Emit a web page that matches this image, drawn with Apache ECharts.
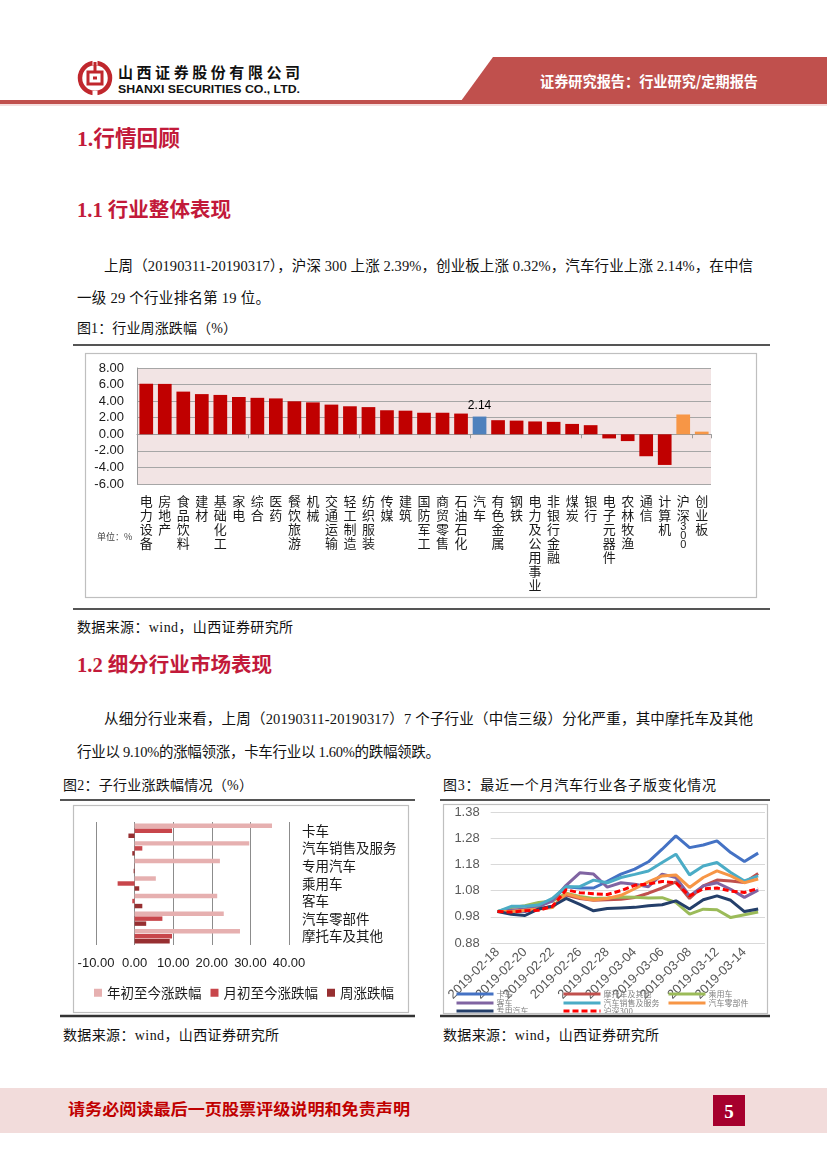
<!DOCTYPE html>
<html><head><meta charset="utf-8">
<script src="https://cdn.jsdelivr.net/npm/echarts@6/dist/echarts.min.js"></script>
<style>
body{margin:0;background:#fff;}
#page{position:relative;width:827px;height:1169px;overflow:hidden;background:#fff;}
#bg{position:absolute;left:0;top:0;}
.chart{position:absolute;}
</style></head><body>
<div id="page">
<svg id="bg" width="827" height="1169" xmlns="http://www.w3.org/2000/svg">
  <!-- header -->
  <polygon points="461,101 493,57 827,57 827,101" fill="#c0504d"/>
  <rect x="0" y="100" width="827" height="4" fill="#c0504d"/>
  <rect x="0" y="104" width="827" height="2" fill="#f4dede"/>
  <g>
    <circle cx="95" cy="78" r="15" fill="none" stroke="#c0272d" stroke-width="4.5"/>
    <rect x="92.5" y="59" width="5" height="6" fill="#fff"/>
    <rect x="92.5" y="91" width="5" height="6" fill="#fff"/>
    <rect x="88" y="72" width="14" height="12" fill="none" stroke="#c0272d" stroke-width="3"/>
    <rect x="93" y="76.5" width="4" height="3" fill="#c0272d"/>
    <rect x="93.5" y="62" width="3" height="10" fill="#c0272d"/>
  </g>
  <text x="118" y="78" font-family="Noto Sans CJK SC" font-weight="700" font-size="15" textLength="182" lengthAdjust="spacing" fill="#111">山西证券股份有限公司</text>
  <text x="118" y="93" font-family="Liberation Sans" font-weight="700" font-size="11.5" textLength="182" lengthAdjust="spacingAndGlyphs" fill="#111">SHANXI SECURITIES CO., LTD.</text>
  <text x="540" y="87" font-family="Noto Sans CJK SC" font-weight="700" font-size="14.5" textLength="218" lengthAdjust="spacingAndGlyphs" fill="#fff">证券研究报告：行业研究/定期报告</text>

  <!-- headings & text -->
  <g font-family="Liberation Serif, Noto Sans CJK SC" fill="#c21a3a" font-weight="700">
    <text x="77" y="146" font-size="22" textLength="103" lengthAdjust="spacingAndGlyphs">1.行情回顾</text>
    <text x="77" y="217" font-size="20" textLength="154" lengthAdjust="spacingAndGlyphs">1.1 行业整体表现</text>
    <text x="77" y="672" font-size="20" textLength="195" lengthAdjust="spacingAndGlyphs">1.2 细分行业市场表现</text>
  </g>
  <g font-family="Liberation Serif, Noto Sans CJK SC" fill="#111" font-size="14.5">
    <text x="104" y="271" textLength="649" lengthAdjust="spacing">上周（20190311-20190317），沪深 300 上涨 2.39%，创业板上涨 0.32%，汽车行业上涨 2.14%，在中信</text>
    <text x="77" y="303" textLength="193" lengthAdjust="spacing">一级 29 个行业排名第 19 位。</text>
    <text x="104" y="724" textLength="649" lengthAdjust="spacing">从细分行业来看，上周（20190311-20190317）7 个子行业（中信三级）分化严重，其中摩托车及其他</text>
    <text x="77" y="757" textLength="363" lengthAdjust="spacing">行业以 9.10%的涨幅领涨，卡车行业以 1.60%的跌幅领跌。</text>
  </g>
  <g font-family="Liberation Serif, Noto Sans CJK SC" fill="#111" font-size="14">
    <text x="77" y="333" textLength="160" lengthAdjust="spacing">图1：行业周涨跌幅（%）</text>
    <text x="77" y="632" textLength="216" lengthAdjust="spacing">数据来源：wind，山西证券研究所</text>
    <text x="63" y="790" textLength="190" lengthAdjust="spacing">图2：子行业涨跌幅情况（%）</text>
    <text x="443" y="790" textLength="273" lengthAdjust="spacing">图3：最近一个月汽车行业各子版变化情况</text>
    <text x="63" y="1040" textLength="216" lengthAdjust="spacing">数据来源：wind，山西证券研究所</text>
    <text x="443" y="1040" textLength="216" lengthAdjust="spacing">数据来源：wind，山西证券研究所</text>
  </g>
  <!-- rules -->
  <g stroke="#555" stroke-width="2">
    <line x1="73" y1="345" x2="770" y2="345"/>
    <line x1="73" y1="609" x2="770" y2="609"/>
    <line x1="60" y1="800" x2="415" y2="800"/>
    <line x1="440" y1="800" x2="770" y2="800"/>
  </g>
  <g stroke="#333" stroke-width="2.5">
    <line x1="60" y1="1016" x2="415" y2="1016"/>
    <line x1="440" y1="1016" x2="770" y2="1016"/>
  </g>
  <!-- chart frames -->
  <g fill="none" stroke="#bfbfbf" stroke-width="1.2">
    <rect x="85.5" y="353.5" width="671" height="244"/>
    <rect x="73.5" y="805.5" width="335" height="207"/>
    <rect x="443.5" y="804.5" width="324" height="209"/>
  </g>
  <!-- footer -->
  <rect x="0" y="1088" width="827" height="45" fill="#f2dcdb"/>
  <text x="68" y="1115" font-family="Noto Sans CJK SC" font-weight="700" font-size="16" fill="#c00000" textLength="342" lengthAdjust="spacingAndGlyphs">请务必阅读最后一页股票评级说明和免责声明</text>
  <rect x="713" y="1095" width="32" height="31" fill="#a6002d"/>
  <text x="729" y="1118" text-anchor="middle" font-family="Liberation Serif" font-weight="700" font-size="19" fill="#fff">5</text>
</svg>
<div id="c1" class="chart" style="left:86px;top:354px;width:670px;height:243px"></div>
<div id="c2" class="chart" style="left:74px;top:806px;width:334px;height:206px"></div>
<div id="c3" class="chart" style="left:444px;top:805px;width:323px;height:208px"></div>
</div>
<script>
// ---- Figure 1: weekly change by industry (%) ----
const industries = ['电力设备','房地产','食品饮料','建材','基础化工','家电','综合','医药','餐饮旅游','机械','交通运输','轻工制造','纺织服装','传媒','建筑','国防军工','商贸零售','石油石化','汽车','有色金属','钢铁','电力及公用事业','非银行金融','煤炭','银行','电子元器件','农林牧渔','通信','计算机','沪深300','创业板'];
const weeklyChange = [6.10,6.08,5.15,4.85,4.75,4.50,4.40,4.33,3.98,3.85,3.58,3.38,3.28,2.90,2.85,2.60,2.60,2.50,2.14,1.70,1.65,1.55,1.50,1.25,1.10,-0.50,-0.82,-2.65,-3.70,2.39,0.32];
const fig1Ticks = [-6,8,2];

// ---- Figure 2: sub-industry changes (%) ----
const subIndustries = ['卡车','汽车销售及服务','专用汽车','乘用车','客车','汽车零部件','摩托车及其他'];
const ytdChange = [35.6,29.7,22.1,5.5,21.4,23.1,27.3];
const mtdChange = [9.7,2.0,0.05,-4.4,-0.6,7.2,9.7];
const weekChange = [-1.6,-0.6,-0.25,1.2,2.0,3.0,9.1];
const fig2SeriesNames = ['年初至今涨跌幅','月初至今涨跌幅','周涨跌幅'];

// ---- Figure 3: sub-index trend over the last month ----
const dates = ['2019-02-18','2019-02-19','2019-02-20','2019-02-21','2019-02-22','2019-02-25','2019-02-26','2019-02-27','2019-02-28','2019-03-01','2019-03-04','2019-03-05','2019-03-06','2019-03-07','2019-03-08','2019-03-11','2019-03-12','2019-03-13','2019-03-14','2019-03-15'];
const truck      = [1.00,1.005,1.00,1.02,1.045,1.095,1.09,1.09,1.115,1.143,1.162,1.19,1.238,1.289,1.244,1.254,1.27,1.225,1.191,1.223];
const motorcycle = [1.00,1.00,1.003,1.01,1.02,1.063,1.05,1.043,1.045,1.047,1.054,1.07,1.09,1.113,1.05,1.098,1.12,1.117,1.111,1.145];
const passenger  = [1.00,1.015,1.022,1.035,1.04,1.07,1.058,1.05,1.052,1.056,1.055,1.052,1.053,1.035,0.99,1.009,1.007,0.977,0.988,0.998];
const bus        = [1.00,1.005,1.01,1.02,1.04,1.10,1.148,1.143,1.093,1.11,1.104,1.095,1.143,1.13,1.06,1.098,1.11,1.085,1.054,1.082];
const autoSales  = [1.00,1.02,1.02,1.025,1.05,1.095,1.095,1.12,1.11,1.13,1.142,1.155,1.187,1.219,1.14,1.174,1.187,1.149,1.117,1.136];
const autoParts  = [1.00,1.00,1.005,1.01,1.015,1.068,1.053,1.044,1.05,1.062,1.087,1.113,1.136,1.14,1.092,1.13,1.155,1.136,1.11,1.124];
const specialVeh = [1.00,0.99,0.985,1.01,1.02,1.05,1.027,1.003,1.012,1.014,1.016,1.022,1.026,1.041,1.01,1.045,1.06,1.043,1.00,1.01];
const hs300      = [1.00,0.998,1.003,1.005,1.02,1.083,1.072,1.068,1.065,1.08,1.10,1.105,1.115,1.11,1.06,1.087,1.09,1.078,1.073,1.088];
const fig3Names = ['卡车','摩托车及其他','乘用车','客车','汽车销售及服务','汽车零部件','专用汽车','沪深300'];

const TXT = '#1a1a1a';
const CJK = 'Noto Sans CJK SC';

// Figure 1
(function(){
  const chart = echarts.init(document.getElementById('c1'));
  const colorFor = n => n === '汽车' ? '#4f81bd' : (n === '沪深300' || n === '创业板') ? '#f79646' : '#c00000';
  const stack = v => v.split('').map(ch => /[0-9]/.test(ch) ? '{d|' + ch + '}' : ch).join('\n');
  chart.setOption({
    animation: false,
    grid: {left: 51, top: 14, width: 574, height: 116, show: true, backgroundColor: '#f2e4e4', borderWidth: 0},
    xAxis: [{
      type: 'category', data: industries,
      axisLine: {show: false, onZero: false}, axisTick: {show: false},
      axisLabel: {interval: 0, margin: 10, fontSize: 13, lineHeight: 14, color: TXT, fontFamily: CJK,
        formatter: stack, rich: {d: {fontSize: 11, lineHeight: 9, fontFamily: 'Liberation Sans', color: TXT}}}
    }, {
      type: 'category', data: industries, position: 'bottom',
      axisLine: {show: true, onZero: true, lineStyle: {color: '#9a9a9a'}},
      axisTick: {show: true, length: 4, lineStyle: {color: '#9a9a9a'}},
      axisLabel: {show: false}
    }],
    yAxis: {
      type: 'value', min: fig1Ticks[0], max: fig1Ticks[1], interval: fig1Ticks[2],
      axisLine: {show: true, lineStyle: {color: '#9a9a9a'}}, axisTick: {show: false},
      splitLine: {lineStyle: {color: '#a6a6a6'}},
      axisLabel: {fontSize: 13, margin: 13, color: TXT, fontFamily: 'Liberation Sans', formatter: v => v.toFixed(2)}
    },
    graphic: [{type: 'text', left: 11, top: 178, style: {text: '单位：%', fontSize: 9, fill: '#444', fontFamily: CJK}}],
    series: [{
      type: 'bar', xAxisIndex: 0, barCategoryGap: '26%',
      data: weeklyChange.map((v, i) => ({
        value: v,
        itemStyle: {color: colorFor(industries[i])},
        label: industries[i] === '汽车' ? {show: true, position: 'top', distance: 5, fontSize: 12, color: '#000', fontFamily: 'Liberation Sans', formatter: p => p.value.toFixed(2)} : {show: false}
      }))
    }]
  });
})();

// Figure 2
(function(){
  const chart = echarts.init(document.getElementById('c2'));
  const colors = ['#e6b0b0', '#c8464b', '#972f31'];
  const vals = [ytdChange, mtdChange, weekChange];
  chart.setOption({
    animation: false,
    grid: {left: 22, top: 16, width: 193, height: 123},
    xAxis: {type: 'value', min: -10, max: 40, interval: 10,
      axisLine: {show: false}, axisTick: {show: false},
      splitLine: {lineStyle: {color: '#8c8c8c'}},
      axisLabel: {fontSize: 13, margin: 12, color: TXT, fontFamily: 'Liberation Sans', formatter: v => v.toFixed(2)}},
    yAxis: {type: 'category', data: subIndustries, inverse: true, position: 'right',
      axisLine: {show: false}, axisTick: {show: false},
      axisLabel: {align: 'left', margin: 13, fontSize: 13.5, color: TXT, fontFamily: CJK}},
    legend: {left: 15, top: 175, itemWidth: 8, itemHeight: 8, itemGap: 9, icon: 'rect',
      textStyle: {fontSize: 13.5, color: TXT, fontFamily: CJK}, data: fig2SeriesNames},
    series: fig2SeriesNames.map((n, k) => ({
      name: n, type: 'bar', data: vals[k], barCategoryGap: '18%', barGap: '12%',
      itemStyle: {color: colors[k]}
    }))
  });
})();

// Figure 3
(function(){
  const chart = echarts.init(document.getElementById('c3'));
  const colors = ['#4472c4', '#c0504d', '#9bbb59', '#8064a2', '#4bacc6', '#f79646', '#243f6a', '#ff0000'];
  const vals = [truck, motorcycle, passenger, bus, autoSales, autoParts, specialVeh, hs300];
  const cols = [11, 118, 223], rows = [185, 194, 202];
  const legends = fig3Names.map((n, i) => ({
    data: [n], left: cols[i % 3], top: rows[Math.floor(i / 3)],
    itemWidth: 37, itemHeight: 8, padding: 0, itemGap: 0,
    itemStyle: {opacity: 0},
    lineStyle: {width: 3},
    textStyle: {fontSize: 8, color: '#7f7f7f', fontFamily: CJK, padding: [0, 0, 0, -2]}
  }));
  chart.setOption({
    animation: false,
    grid: {left: 39, top: 7, width: 282, height: 131},
    legend: legends,
    xAxis: {type: 'category', data: dates, boundaryGap: true,
      axisLine: {show: false}, axisTick: {show: false},
      axisLabel: {interval: 1, rotate: 45, margin: 7, fontSize: 13, color: '#595959', fontFamily: 'Liberation Sans'}},
    yAxis: {type: 'value', min: 0.88, max: 1.38, interval: 0.1,
      axisLine: {show: false}, axisTick: {show: false},
      splitLine: {lineStyle: {color: '#d9d9d9'}},
      axisLabel: {fontSize: 13, margin: 11, color: '#595959', fontFamily: 'Liberation Sans', formatter: v => v.toFixed(2)}},
    series: fig3Names.map((n, k) => ({
      name: n, type: 'line', data: vals[k], symbol: 'none', z: k === 7 ? 5 : 2,
      lineStyle: {color: colors[k], width: 3, type: k === 7 ? [6, 3] : 'solid'},
      itemStyle: {color: colors[k]}
    }))
  });
})();
</script>
</body></html>
